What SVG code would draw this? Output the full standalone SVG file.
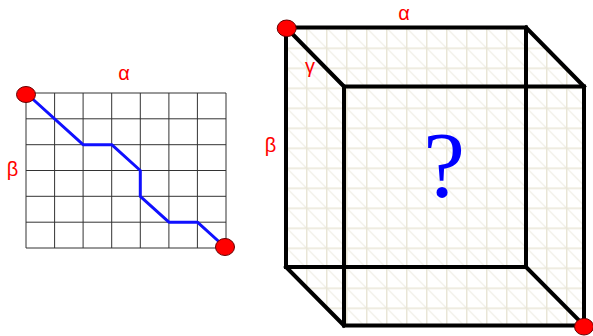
<svg xmlns="http://www.w3.org/2000/svg" width="593" height="336" viewBox="0 0 593 336">
<style>
.lbl{font-family:"Liberation Sans",Arial,sans-serif;font-size:20px;fill:#ff0000;text-anchor:middle}
.grid{stroke:#333;stroke-width:1;fill:none}
.edge{stroke:#000;stroke-width:4;fill:none;stroke-linecap:square;stroke-linejoin:miter}
.dot{fill:#ff0000;stroke:#600;stroke-width:1}
</style>
<defs>
<pattern id="cg" patternUnits="userSpaceOnUse" x="286" y="27.5" width="20" height="20">
<path d="M0 0 L20 20" stroke="#efede3" stroke-width="1.2" fill="none"/>
<path d="M0.75 0 V20 M0 0.75 H20" stroke="#e9e6d7" stroke-width="1.5" fill="none"/>
</pattern>
<clipPath id="hex"><polygon points="286,27.5 526,27.5 584,86.5 584,325.5 344,325.5 286,267"/></clipPath>
</defs>
<g id="grid2d">
<path class="grid" d="M26 93 V248 M54.6 93 V248 M83.1 93 V248 M111.7 93 V248 M140.3 93 V248 M168.9 93 V248 M197.4 93 V248 M226 93 V248 M26 93 H226 M26 118.8 H226 M26 144.7 H226 M26 170.5 H226 M26 196.3 H226 M26 222.2 H226 M26 248 H226"/>
</g>
<g id="path2d">
<polyline points="26,93 83.1,144.7 111.7,144.7 140.3,170.5 140.3,196.3 168.9,222.2 197.4,222.2 226,248" fill="none" stroke="#1010ff" stroke-width="3" stroke-linejoin="round"/>
</g>
<g id="start2d"><ellipse class="dot" cx="26" cy="94.5" rx="9.5" ry="8"/></g>
<g id="end2d"><ellipse class="dot" cx="225" cy="247" rx="9.5" ry="8.5"/></g>
<text class="lbl" x="124" y="80">α</text>
<text class="lbl" x="12.5" y="176">β</text>
<g id="cube">
<rect x="280" y="20" width="310" height="310" fill="url(#cg)" clip-path="url(#hex)"/>
<g id="edges">
<rect class="edge" x="286" y="27.5" width="240" height="239.5"/>
<rect class="edge" x="344" y="86.5" width="240" height="239"/>
<path class="edge" d="M286 27.5 L344 86.5 M526 27.5 L584 86.5 M286 267 L344 325.5 M526 267 L584 325.5"/>
</g>
</g>
<g id="start3d"><ellipse class="dot" cx="286.7" cy="28.3" rx="9.5" ry="8.3"/></g>
<g id="end3d"><ellipse class="dot" cx="584" cy="326.7" rx="9.5" ry="8.3"/></g>
<text class="lbl" x="404" y="20">α</text>
<text class="lbl" x="270.5" y="152">β</text>
<text class="lbl" x="310" y="73" font-size="19">γ</text>
<text x="444" y="196" font-family="'Liberation Serif','Times New Roman',serif" font-size="94" fill="#0000ff" text-anchor="middle">?</text>
</svg>
